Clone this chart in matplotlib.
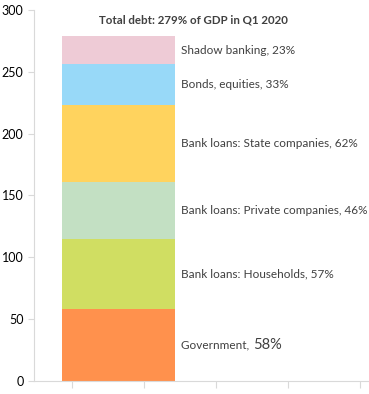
import matplotlib.pyplot as plt
import matplotlib

matplotlib.rcParams['font.family'] = ['Lato', 'DejaVu Sans']

# data
segments = ['Government', 'Bank loans: Households', 'Bank loans: Private companies',
            'Bank loans: State companies', 'Bonds, equities', 'Shadow banking']
values = [58, 57, 46, 62, 33, 23]
colors = ['#FF914D', '#D0DE62', '#C3E0C3', '#FFD35E', '#98D9F8', '#EECBD6']
title = 'Total debt: 279% of GDP in Q1 2020'
yticks = [0, 50, 100, 150, 200, 250, 300]

fig = plt.figure(figsize=(3.69, 3.94), dpi=100)
ax = fig.add_axes([34 / 369, 13 / 394, 335 / 369, 371 / 394])
ax.set_xlim(0, 1)
ax.set_ylim(0, 300)

bar_x = 0.252
bar_w = 0.337
bottom = 0
for name, v, c in zip(segments, values, colors):
    ax.bar(bar_x, v, width=bar_w, bottom=bottom, color=c, edgecolor='none')
    mid = bottom + v / 2
    if name == 'Government':
        t = ax.text(0.438, mid, name + ', ', ha='left', va='center', fontsize=8.5, color='#404040')
        ax.annotate('%d%%' % v, xy=(1, 0.5), xycoords=t, xytext=(1, 0), textcoords='offset points',
                    ha='left', va='center', fontsize=10.5, color='#404040')
    else:
        ax.text(0.438, mid, '%s, %d%%' % (name, v), ha='left', va='center',
                fontsize=8.5, color='#404040')
    bottom += v

ax.text(0.475, 292, title, ha='center', va='center', fontsize=8.3,
        fontweight='bold', color='#404040')

ax.set_yticks(yticks)
ax.set_xticks([0.113, 0.328, 0.543, 0.758, 0.973])
ax.set_xticklabels([])
ax.tick_params(axis='y', length=4, color='#D9D9D9', labelsize=9, labelcolor='#000000', pad=3.5)
ax.tick_params(axis='x', length=5, color='#D9D9D9')
for s in ['top', 'right']:
    ax.spines[s].set_visible(False)
ax.spines['left'].set_color('#D9D9D9')
ax.spines['bottom'].set_color('#D9D9D9')

plt.savefig('out.png', dpi=100)
plt.close()
